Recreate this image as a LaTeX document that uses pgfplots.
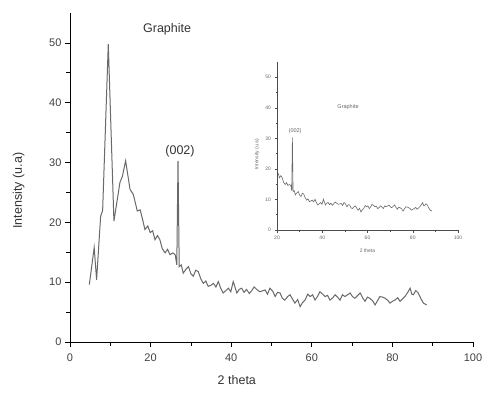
\documentclass[border=0pt]{standalone}
\usepackage{pgfplots}
\pgfplotsset{compat=1.18}
\usepackage{pgfplotstable}
\usepackage{fontspec}
\setmainfont{Liberation Sans}
\definecolor{curve}{RGB}{105,105,105}
\pgfplotstableread{
x y
4.8 9.6
6.0 15.8
6.6 10.4
7.6 21.0
8.1 22.0
9.5 49.8
10.9 20.2
12.4 26.7
13.0 27.7
13.8 30.3
14.9 25.5
15.7 24.7
16.7 21.9
17.4 22.1
18.0 20.5
18.6 18.8
19.3 19.4
19.9 18.3
20.5 18.6
21.1 17.1
21.7 17.8
22.3 17.1
22.9 15.6
23.6 14.9
24.2 15.5
24.8 14.6
25.5 14.9
26.1 14.6
26.5 12.9
26.8 30.3
27.1 12.6
27.6 12.9
28.1 11.5
28.8 12.2
29.4 12.6
30.0 11.4
30.6 11.0
31.2 12.0
31.8 11.8
32.5 10.5
33.1 9.8
33.7 10.2
34.3 9.3
35.0 9.5
35.6 9.8
36.2 9.2
36.8 10.1
37.4 9.0
38.0 8.2
38.7 8.6
39.3 9.0
39.9 8.4
40.5 10.1
41.4 8.2
42.0 8.8
42.6 9.0
43.2 8.3
43.8 8.8
44.5 8.1
45.1 8.6
45.7 9.2
46.3 8.8
47.1 8.4
48.4 8.7
49.0 8.0
49.6 9.0
50.3 8.5
50.9 7.6
51.5 8.3
52.1 8.2
52.7 7.3
53.3 7.0
54.0 7.6
54.6 7.9
55.2 7.2
55.8 6.5
56.5 7.1
57.1 5.9
57.7 6.6
58.3 7.0
59.0 8.0
59.6 7.6
60.2 7.9
60.8 7.0
61.4 7.6
62.0 8.4
62.7 8.0
63.3 7.6
63.9 7.8
64.5 7.0
65.2 7.4
65.8 7.9
66.4 7.5
67.0 7.0
67.6 7.9
68.2 7.6
68.9 7.9
69.5 8.2
70.1 7.6
70.7 7.3
71.4 7.8
72.0 8.2
72.6 7.4
73.2 6.8
73.8 7.5
74.4 7.3
75.1 6.9
75.7 6.2
76.3 6.9
76.9 7.6
77.6 7.5
78.2 7.3
78.8 7.0
79.4 6.5
80.0 6.8
80.6 7.0
81.3 7.4
81.9 6.8
82.5 7.2
83.1 7.6
83.8 8.3
84.4 9.0
84.8 8.0
85.2 7.9
85.8 8.6
86.4 8.2
87.1 7.2
87.7 6.5
88.5 6.2
}\xrd
\begin{document}
\begin{tikzpicture}
\useasboundingbox (0,0) rectangle (489pt,392pt);
\begin{axis}[
  at={(70pt,50pt)}, anchor=south west,
  scale only axis, width=403pt, height=329pt,
  xmin=0, xmax=100, ymin=0, ymax=55,
  axis x line*=bottom, axis y line*=left,
  axis line style={black, line width=0.8pt},
  tick align=outside,
  xtick={0,20,40,60,80,100}, minor xtick={10,30,50,70,90},
  ytick={0,10,20,30,40,50}, minor ytick={5,15,25,35,45},
  major tick length=5pt, minor tick length=3.5pt,
  every tick/.style={black, line width=0.8pt},
  every minor tick/.style={black, line width=0.7pt},
  /pgf/number format/assume math mode=true,
  ticklabel style={font=\fontsize{11}{12}\selectfont, color=black!75},
  xticklabel style={yshift=-3pt},
  xlabel={2 theta}, ylabel={Intensity (u.a)},
  label style={font=\fontsize{12.5}{14}\selectfont, color=black!80},
  xlabel style={at={(axis description cs:0.414,0)}, anchor=north, yshift=-30pt},
  ylabel style={at={(axis description cs:0,0.46)}, anchor=south, yshift=42pt},
  clip=false,
]
\addplot[curve, line width=1pt, mark=none] table[x=x,y=y] {\xrd};
\node[font=\fontsize{12.5}{14}\selectfont, color=black!80] at (axis cs:24.1,52.3) {Graphite};
\node[font=\fontsize{12.5}{14}\selectfont, color=black!80] at (axis cs:27.3,31.9) {(002)};
\end{axis}
\begin{axis}[
  at={(277pt,162pt)}, anchor=south west,
  scale only axis, width=181pt, height=168pt,
  xmin=20, xmax=100, ymin=0, ymax=55,
  axis x line*=bottom, axis y line*=left,
  axis line style={black!70, line width=0.5pt},
  tick align=outside,
  xtick={20,40,60,80,100}, minor xtick={30,50,70,90},
  ytick={0,10,20,30,40,50}, minor ytick={5,15,25,35,45},
  major tick length=2.5pt, minor tick length=1.5pt,
  every tick/.style={black!70, line width=0.5pt},
  /pgf/number format/assume math mode=true,
  ticklabel style={font=\fontsize{5}{6}\selectfont, color=black!60},
  xlabel={2 theta}, ylabel={Intensity (u.a)},
  label style={font=\fontsize{5}{6}\selectfont, color=black!60},
  xlabel style={at={(axis description cs:0.5,0)}, anchor=north, yshift=-15pt},
  ylabel style={at={(axis description cs:0,0.45)}, anchor=south, yshift=14pt},
  clip=false,
]
\addplot[curve, line width=0.6pt, mark=none, restrict x to domain=20:100] table[x=x,y=y] {\xrd};
\node[font=\fontsize{5.5}{6}\selectfont, color=black!60] at (axis cs:51.4,40.3) {Graphite};
\node[font=\fontsize{5.5}{6}\selectfont, color=black!60] at (axis cs:28,32.5) {(002)};
\end{axis}
\end{tikzpicture}
\end{document}
